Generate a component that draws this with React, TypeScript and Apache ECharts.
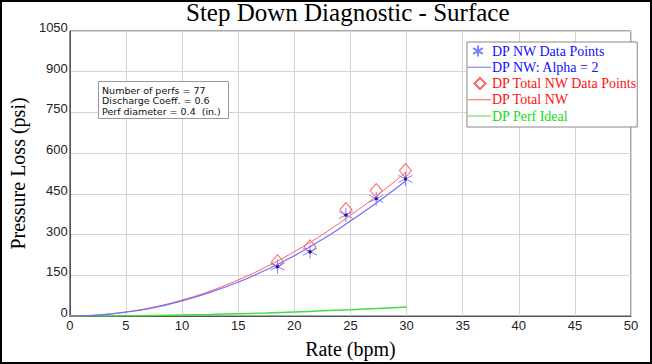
import React, { useEffect, useRef } from "react";
import * as echarts from "echarts";

const rateTicks = [0, 2.5, 5, 7.5, 10, 12.5, 15, 17.5, 20, 22.5, 25, 27.5, 30];
const nwFit = [0, 3.5, 14, 31, 56, 87, 125, 170, 222, 282, 350, 422, 500];
const totalFit = [0, 3.7, 15, 33, 59, 92, 133, 181, 237, 300, 371, 448, 532];
const perfIdeal = [0, 0.2, 0.9, 2, 3.7, 5.8, 8.3, 11, 15, 19, 23, 28, 33];

const pointRates = [18.5, 21.4, 24.6, 27.3, 29.9];
const nwPoints = [182, 237, 372, 432, 505];
const totalPoints = [200, 255, 392, 462, 536];

const annotationLines = [
  "Number of perfs = 77",
  "Discharge Coeff. = 0.6",
  "Perf diameter = 0.4  (in.)",
];

const pair = (xs: number[], ys: number[]) => xs.map((x, i) => [x, ys[i]]);

const asterisk = "path://M5,0L5,10M0.7,2.5L9.3,7.5M9.3,2.5L0.7,7.5";
const lineIcon = "path://M0,0M0,5.5L23,5.5L23,6.5L0,6.5ZM23,12";
const asteriskIcon = "path://M0,0M10,0.5L10,11.5M5.2,3.2L14.8,8.8M14.8,3.2L5.2,8.8M23,12";
const diamondIcon = "path://M0,0M12,0.5L17.5,6L12,11.5L6.5,6ZM23,12";
const serif = "Liberation Serif";
const narrow = "'Liberation Sans Narrow', 'Liberation Sans', sans-serif";
const boxFont = "DejaVu Sans";

export default function App() {
  const ref = useRef<HTMLDivElement>(null);
  useEffect(() => {
    if (!ref.current) return;
    const chart = echarts.init(ref.current, null, { renderer: "svg" });
    chart.setOption({
      animation: false,
      backgroundColor: "#fff",
      title: {
        text: "Step Down Diagnostic - Surface",
        left: 186,
        top: 0,
        padding: 0,
        textStyle: { fontFamily: serif, fontSize: 25, fontWeight: "normal", color: "#000" },
      },
      grid: { left: 65, right: 21, top: 31, bottom: 43, show: true, borderColor: "#555", borderWidth: 1 },
      legend: {
        orient: "vertical",
        left: 467,
        top: 42,
        backgroundColor: "#fff",
        borderColor: "#888",
        borderWidth: 1,
        padding: [2, 0, 4, 0],
        itemWidth: 23,
        itemHeight: 12,
        itemGap: 2.25,
        textStyle: { fontFamily: serif, fontSize: 14, lineHeight: 14, padding: [0, 0, 0, -4] },
        data: [
          { name: "DP NW Data Points", icon: asteriskIcon, textStyle: { color: "#1010ff" } },
          { name: "DP NW: Alpha = 2", icon: lineIcon, textStyle: { color: "#1010ff" } },
          { name: "DP Total NW Data Points", icon: diamondIcon, textStyle: { color: "#ff1010" } },
          { name: "DP Total NW", icon: lineIcon, textStyle: { color: "#ff1010" } },
          { name: "DP Perf Ideal", icon: lineIcon, textStyle: { color: "#10dd10" } },
        ],
      },
      xAxis: {
        type: "value",
        min: 0,
        max: 50,
        interval: 5,
        name: "Rate (bpm)",
        nameLocation: "middle",
        nameGap: 23,
        nameTextStyle: { fontFamily: serif, fontSize: 20, color: "#000" },
        axisLine: { lineStyle: { color: "#555" } },
        axisTick: { show: false },
        axisLabel: { fontFamily: narrow, fontSize: 13, color: "#222", margin: 3 },
        splitLine: { lineStyle: { color: "#d4d4d4" } },
      },
      yAxis: {
        type: "value",
        min: 0,
        max: 1050,
        interval: 150,
        name: "Pressure Loss (psi)",
        nameLocation: "middle",
        nameRotate: 90,
        nameGap: 33,
        nameTextStyle: { fontFamily: serif, fontSize: 20, color: "#000" },
        axisLine: { show: true, lineStyle: { color: "#555" } },
        axisTick: { show: false },
        axisLabel: {
          fontFamily: narrow,
          fontSize: 13,
          color: "#222",
          margin: 2,
          verticalAlign: "bottom",
          padding: [0, 0, -3, 0],
          formatter: (v: number) => String(v),
        },
        splitLine: { lineStyle: { color: "#d4d4d4" } },
      },
      series: [
        {
          name: "DP Perf Ideal",
          type: "line",
          smooth: true,
          symbol: "none",
          data: pair(rateTicks, perfIdeal),
          lineStyle: { color: "#40e040", width: 1.5 },
          itemStyle: { color: "#40e040" },
        },
        {
          name: "DP Total NW",
          type: "line",
          smooth: true,
          symbol: "none",
          data: pair(rateTicks, totalFit),
          lineStyle: { color: "#ff6060", width: 1 },
          itemStyle: { color: "#ff6060" },
        },
        {
          name: "DP NW: Alpha = 2",
          type: "line",
          smooth: true,
          symbol: "none",
          data: pair(rateTicks, nwFit),
          lineStyle: { color: "#7070ff", width: 1.2 },
          itemStyle: { color: "#7070ff" },
        },
        {
          name: "DP Total NW Data Points",
          type: "scatter",
          symbol: "diamond",
          symbolSize: [12, 14],
          data: pair(pointRates, totalPoints),
          itemStyle: { color: "rgba(0,0,0,0)", borderColor: "#ff4040", borderWidth: 1 },
        },
        {
          name: "DP NW Data Points",
          type: "scatter",
          symbol: asterisk,
          symbolSize: 14,
          data: pair(pointRates, nwPoints),
          itemStyle: { color: "rgba(0,0,0,0)", borderColor: "#6060ff", borderWidth: 1 },
        },
        {
          name: "NW centre",
          type: "scatter",
          symbol: "rect",
          symbolSize: 3,
          data: pair(pointRates, nwPoints),
          itemStyle: { color: "#000090" },
        },
      ],
      graphic: [
        {
          type: "rect",
          z: 10,
          shape: { x: 98.5, y: 81.5, width: 130, height: 37 },
          style: { fill: "#fff", stroke: "#999", lineWidth: 1 },
        },
        ...annotationLines.map((t, i) => ({
          type: "text",
          z: 11,
          x: 102,
          y: 90 + i * 10.5,
          style: { text: t, fontFamily: boxFont, fontSize: 9.5, fill: "#111", verticalAlign: "middle", align: "left" },
        })),
        {
          type: "rect",
          z: 20,
          shape: { x: 1, y: 1, width: 650, height: 362 },
          style: { fill: "none", stroke: "#000", lineWidth: 2 },
          silent: true,
        },
      ],
    });
    return () => chart.dispose();
  }, []);
  return (
    <div
      ref={ref}
      style={{ position: "absolute", left: 0, top: 0, width: 652, height: 364 }}
    />
  );
}
